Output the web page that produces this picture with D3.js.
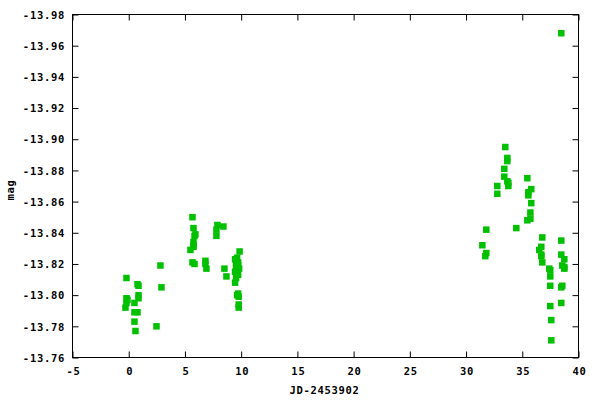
<!DOCTYPE html>
<html>
<head>
<meta charset="utf-8">
<script src="https://cdn.jsdelivr.net/npm/d3@7"></script>
<style>
  html, body { margin: 0; padding: 0; background: #fff; }
  svg { display: block; }
  text { font-family: "DejaVu Sans Mono", "Liberation Mono", monospace; font-weight: bold; font-size: 10.5px; letter-spacing: 0.7px; fill: #000; }
</style>
</head>
<body>
<svg id="chart" width="600" height="400"></svg>
<script>
// JD - 2453902
const jd = [
  2.82, -0.20, 0.78, 0.87, 2.91, 0.87, 0.87, -0.20, -0.11, -0.20, 0.51, -0.29, 0.51, 0.78, 0.51, 2.47, 0.60,
  5.67, 5.76, 5.93, 5.85, 5.76, 5.76, 5.76, 5.49, 5.67, 5.85, 7.89, 7.80, 8.42, 7.80, 6.82, 6.82, 6.91, 8.51, 8.69,
  9.86, 9.64, 9.46, 9.73, 9.55, 9.73, 9.55, 9.82, 9.64, 9.46, 9.73, 9.55, 9.46, 9.73, 9.64, 9.78, 9.78, 9.78,
  31.80, 31.45, 31.80, 31.71, 32.78, 32.78, 33.49, 33.67, 33.67, 33.40, 33.40, 33.67, 33.76, 33.76, 34.47,
  35.45, 35.80, 35.54, 35.54, 35.80, 35.72, 35.72, 35.45,
  36.78, 36.69, 36.51, 36.69, 36.69, 36.78, 37.40, 37.49, 37.49, 37.49, 37.49, 37.58, 37.58,
  38.47, 38.47, 38.74, 38.56, 38.74, 38.74, 38.56, 38.47, 38.47, 38.47
];
const mag = [
  -13.819, -13.811, -13.807, -13.806, -13.805, -13.800, -13.798, -13.798, -13.797, -13.795, -13.795, -13.792, -13.789, -13.789, -13.783, -13.780, -13.777,
  -13.850, -13.843, -13.839, -13.838, -13.834, -13.832, -13.831, -13.829, -13.821, -13.820, -13.845, -13.842, -13.844, -13.838, -13.822, -13.820, -13.817, -13.817, -13.812,
  -13.828, -13.824, -13.823, -13.821, -13.820, -13.819, -13.817, -13.817, -13.816, -13.815, -13.813, -13.811, -13.808, -13.801, -13.800, -13.799, -13.794, -13.792,
  -13.842, -13.832, -13.827, -13.825, -13.870, -13.865, -13.895, -13.888, -13.886, -13.881, -13.876, -13.873, -13.872, -13.870, -13.843,
  -13.875, -13.868, -13.866, -13.864, -13.859, -13.853, -13.849, -13.848,
  -13.837, -13.831, -13.829, -13.826, -13.825, -13.821, -13.817, -13.816, -13.812, -13.806, -13.793, -13.784, -13.771,
  -13.835, -13.826, -13.823, -13.819, -13.818, -13.817, -13.806, -13.805, -13.795, -13.968
];
const xTicks = [-5, 0, 5, 10, 15, 20, 25, 30, 35, 40];
const yTicks = [-13.98, -13.96, -13.94, -13.92, -13.90, -13.88, -13.86, -13.84, -13.82, -13.80, -13.78, -13.76];
const xTitle = "JD-2453902";
const yTitle = "mag";

const L = 72.5, R = 578.5, T = 14.5, B = 357.5;
const svg = d3.select("#chart");

const x = d3.scaleLinear().domain([-5, 40]).range([L, R]);
const y = d3.scaleLinear().domain([-13.98, -13.76]).range([T, B]);

const tickLen = 6;
const fmtY = d => d.toFixed(2);

const xAxisB = d3.axisBottom(x).tickValues(xTicks).tickSize(-tickLen).tickPadding(10).tickFormat(d => String(d));
const gB = svg.append("g").attr("transform", `translate(0,${B})`).call(xAxisB);
const gT = svg.append("g").attr("transform", `translate(0,${T})`).call(d3.axisTop(x).tickValues(xTicks).tickSize(-tickLen).tickFormat(""));
const gL = svg.append("g").attr("transform", `translate(${L},0)`).call(d3.axisLeft(y).tickValues(yTicks).tickSize(-tickLen).tickPadding(10).tickFormat(fmtY));
const gR = svg.append("g").attr("transform", `translate(${R},0)`).call(d3.axisRight(y).tickValues(yTicks).tickSize(-tickLen).tickFormat(""));

[gB, gT, gL, gR].forEach(g => {
  g.select(".domain").remove();
  g.selectAll(".tick line").attr("stroke", "#000").attr("stroke-width", 1);
  g.selectAll("text").attr("fill", "#000").attr("font-family", null).attr("font-size", null);
});
gL.selectAll("text").attr("x", -7.5).attr("dy", "0.35em");
gB.selectAll("text").attr("y", 10).attr("dy", "0.71em").attr("dx", "0.5px");

svg.append("rect").attr("x", L).attr("y", T).attr("width", R - L).attr("height", B - T)
  .attr("fill", "none").attr("stroke", "#000").attr("stroke-width", 1);

const s = 6.5;
svg.append("g").selectAll("rect").data(jd.map((d, i) => [d, mag[i]])).join("rect")
  .attr("x", d => x(d[0]) - s / 2)
  .attr("y", d => y(d[1]) - s / 2)
  .attr("width", s).attr("height", s)
  .attr("fill", "#00c000");

svg.append("text").attr("x", (L + R) / 2 - 1).attr("y", 394).attr("text-anchor", "middle").text(xTitle);
svg.append("text").attr("transform", `translate(14,${(T + B) / 2 + 4}) rotate(-90)`).attr("text-anchor", "middle").text(yTitle);
</script>
</body>
</html>
